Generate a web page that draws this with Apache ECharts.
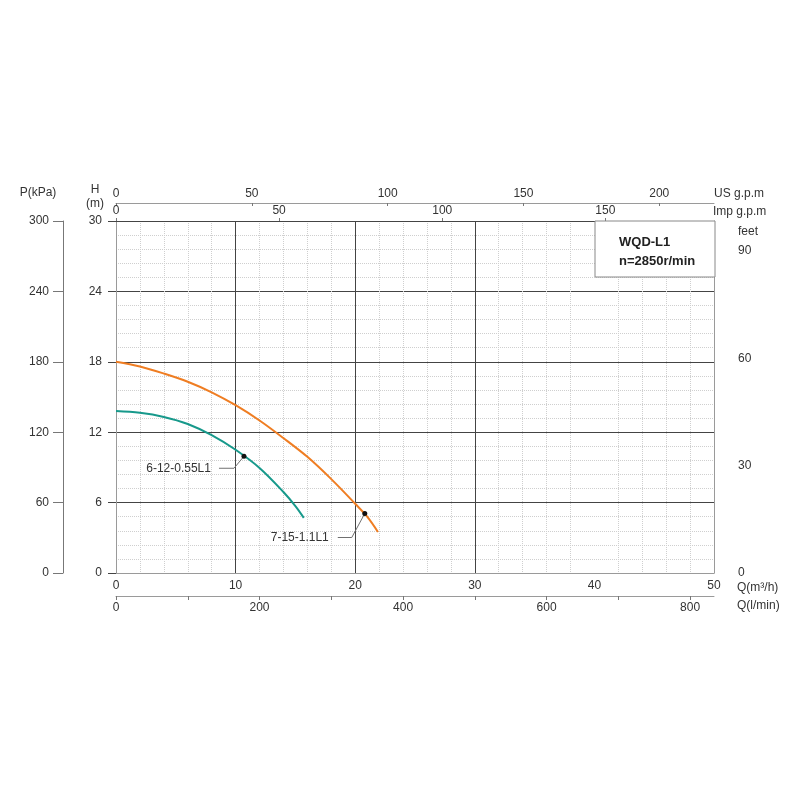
<!DOCTYPE html>
<html>
<head>
<meta charset="utf-8">
<title>WQD-L1 pump curves</title>
<script src="https://cdn.jsdelivr.net/npm/echarts@6/dist/echarts.min.js"></script>
<style>
  html, body { margin: 0; padding: 0; background: #fff; }
  #chart { width: 800px; height: 800px; }
</style>
</head>
<body>
<div id="chart"></div>
<script>
// curves: flow in m3/h, head in m
var flowA = [0, 2, 4, 6, 8, 10, 12, 14, 15, 15.7];
var headA = [13.8, 13.65, 13.3, 12.7, 11.75, 10.5, 8.95, 6.9, 5.7, 4.7];
var flowB = [0, 2, 4, 6, 8, 10, 12, 14, 16, 18, 20, 21, 21.9];
var headB = [18.0, 17.6, 17.0, 16.3, 15.4, 14.3, 13.0, 11.5, 9.9, 8.0, 5.9, 4.8, 3.5];

// labelled duty points
var modelNames = ['6-12-0.55L1', '7-15-1.1L1'];
var markFlow = [10.7, 20.8];
var markHead = [9.95, 5.07];

// axis ranges (the extra scales are unit conversions of Q and H)
var qMax = 50, hMax = 30;
var lpmMax = qMax * 1000 / 60;
var usMax = qMax * 4.40287;
var impMax = qMax * 3.66615;
var kpaMax = 300;
var feetMax = hMax * 3.28084;

var FONT = '"Liberation Sans", Arial, sans-serif';
var DARK = '#444', BORDER = '#9a9a9a', MINOR = '#cfcfcf', TXT = '#333';

// leader line offsets for each duty label: [diag dx, dy, horizontal end dx, text right dx]
var leaderOffsets = [[-10, 12, -25, -33], [-13, 24, -27, -36]];

function pairs(xs, ys) {
    var out = [];
    for (var i = 0; i < xs.length; i++) out.push([xs[i], ys[i]]);
    return out;
}

function leaderItem(params, api) {
    var p = api.coord([api.value(0), api.value(1)]);
    var o = leaderOffsets[params.dataIndex];
    return {
        type: 'group',
        children: [
            { type: 'polyline',
              shape: { points: [[p[0], p[1]], [p[0] + o[0], p[1] + o[1]], [p[0] + o[2], p[1] + o[1]]] },
              style: { stroke: '#707070', lineWidth: 1, fill: 'none' } },
            { type: 'circle', shape: { cx: p[0], cy: p[1], r: 2.5 }, style: { fill: '#111' } },
            { type: 'text', x: p[0] + o[3], y: p[1] + o[1],
              style: { text: modelNames[params.dataIndex], align: 'right', verticalAlign: 'middle',
                       font: '12px ' + FONT, fill: TXT } }
        ]
    };
}

function label(text, x, y, align, bold) {
    return { type: 'text', x: x, y: y, z: 100,
             style: { text: text, align: align || 'left', verticalAlign: 'middle',
                      font: (bold ? 'bold 13px ' : '12px ') + FONT, fill: bold ? '#222' : TXT } };
}

var labelStyle = { color: TXT, fontSize: 12, fontFamily: FONT };

var myChart = echarts.init(document.getElementById('chart'));
var option = {
    animation: false,
    backgroundColor: '#fff',
    grid: { left: 116, top: 221, width: 598, height: 352 },
    xAxis: [
        { // Q m3/h
            type: 'value', position: 'bottom', min: 0, max: qMax, interval: 10,
            axisLine: { onZero: false, lineStyle: { color: BORDER, width: 1 } },
            axisTick: { show: false },
            axisLabel: Object.assign({ margin: 7 }, labelStyle),
            splitLine: { show: true, lineStyle: { color: ['transparent', DARK, DARK, DARK, 'transparent', 'transparent'], width: 1 } },
            minorTick: { show: false, splitNumber: 5 },
            minorSplitLine: { show: true, lineStyle: { color: MINOR, type: 'dotted', width: 1 } }
        },
        { // Q l/min
            type: 'value', position: 'bottom', offset: 23, min: 0, max: lpmMax, interval: 100,
            axisLine: { show: true, onZero: false, lineStyle: { color: BORDER, width: 1 } },
            axisTick: { show: true, length: 4, lineStyle: { color: '#777' } },
            axisLabel: Object.assign({ margin: 6, showMaxLabel: false,
                formatter: function (v) { return v % 200 === 0 ? v : ''; } }, labelStyle),
            splitLine: { show: false }
        },
        { // US gpm
            type: 'value', position: 'top', offset: 18, min: 0, max: usMax, interval: 50,
            axisLine: { show: true, onZero: false, lineStyle: { color: BORDER, width: 1 } },
            axisTick: { show: true, inside: true, length: 3, lineStyle: { color: '#777' } },
            axisLabel: Object.assign({ margin: 3, showMaxLabel: false }, labelStyle),
            splitLine: { show: false }
        },
        { // Imp gpm
            type: 'value', position: 'top', offset: 0, min: 0, max: impMax, interval: 50,
            axisLine: { show: true, onZero: false, lineStyle: { color: DARK, width: 1 } },
            axisTick: { show: true, length: 3, lineStyle: { color: '#777' } },
            axisLabel: Object.assign({ margin: 4, showMaxLabel: false }, labelStyle),
            splitLine: { show: false }
        }
    ],
    yAxis: [
        { // H m
            type: 'value', position: 'left', min: 0, max: hMax, interval: 6,
            axisLine: { show: true, onZero: false, lineStyle: { color: BORDER, width: 1 } },
            axisTick: { show: true, length: 8, lineStyle: { color: DARK } },
            axisLabel: Object.assign({ margin: 14 }, labelStyle),
            splitLine: { show: true, lineStyle: { color: ['transparent', DARK, DARK, DARK, DARK, DARK], width: 1 } },
            minorTick: { show: false, splitNumber: 5 },
            minorSplitLine: { show: true, lineStyle: { color: MINOR, type: 'dotted', width: 1 } }
        },
        { // P kPa
            type: 'value', position: 'left', offset: 53, min: 0, max: kpaMax, interval: 60,
            axisLine: { show: true, onZero: false, lineStyle: { color: '#777', width: 1 } },
            axisTick: { show: true, length: 10, lineStyle: { color: '#777' } },
            axisLabel: Object.assign({ margin: 14 }, labelStyle),
            splitLine: { show: false }
        },
        { // feet
            type: 'value', position: 'right', min: 0, max: feetMax, interval: 30,
            axisLine: { show: true, onZero: false, lineStyle: { color: BORDER, width: 1 } },
            axisTick: { show: false },
            axisLabel: Object.assign({ margin: 24, showMaxLabel: false }, labelStyle),
            splitLine: { show: false }
        }
    ],
    series: [
        { name: modelNames[0], type: 'line', xAxisIndex: 0, yAxisIndex: 0,
          data: pairs(flowA, headA), smooth: 0.35, showSymbol: false,
          lineStyle: { color: '#17998b', width: 2 }, z: 5 },
        { name: modelNames[1], type: 'line', xAxisIndex: 0, yAxisIndex: 0,
          data: pairs(flowB, headB), smooth: 0.35, showSymbol: false,
          lineStyle: { color: '#ef7d22', width: 2 }, z: 5 },
        { name: 'duty', type: 'custom', xAxisIndex: 0, yAxisIndex: 0,
          data: pairs(markFlow, markHead), renderItem: leaderItem, z: 6 }
    ],
    graphic: [
        label('P(kPa)', 38, 193, 'center'),
        label('H', 95, 190, 'center'),
        label('(m)', 95, 204, 'center'),
        label('US g.p.m', 714, 194),
        label('Imp g.p.m', 713, 212),
        label('feet', 738, 232),
        label('Q(m\u00b3/h)', 737, 588),
        label('Q(l/min)', 737, 606),
        { type: 'rect', z: 99, shape: { x: 595, y: 221, width: 120, height: 56 },
          style: { fill: '#fff', stroke: '#888', lineWidth: 1 } },
        label('WQD-L1', 619, 242, 'left', true),
        label('n=2850r/min', 619, 261, 'left', true)
    ]
};
myChart.setOption(option);
</script>
</body>
</html>
